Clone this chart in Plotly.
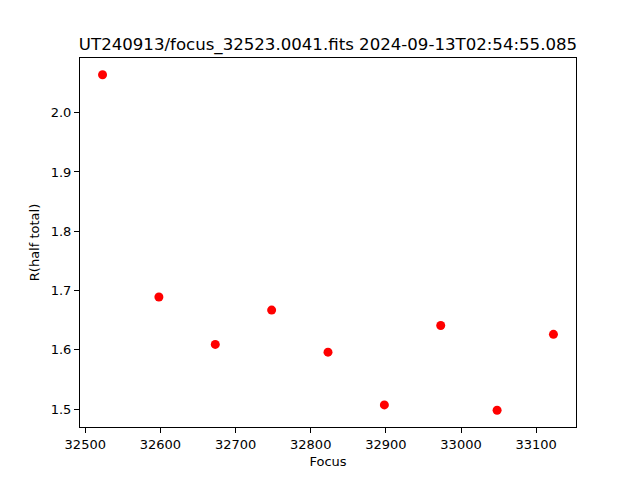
import plotly.graph_objects as go

focus = [32523, 32598, 32673, 32748, 32823, 32898, 32973, 33048, 33123]
r_half = [2.064, 1.689, 1.609, 1.667, 1.596, 1.507, 1.641, 1.498, 1.626]
title = "UT240913/focus_32523.0041.fits 2024-09-13T02:54:55.085"
x_ticks = [32500, 32600, 32700, 32800, 32900, 33000, 33100]
y_ticks = [1.5, 1.6, 1.7, 1.8, 1.9, 2.0]

font = "DejaVu Sans"
fig = go.Figure(go.Scatter(x=focus, y=r_half, mode="markers",
                           marker=dict(color="red", size=9, line=dict(width=0))))

xmin, xmax = min(focus), max(focus)
ymin, ymax = min(r_half), max(r_half)
xpad = (xmax - xmin) * 0.05
ypad = (ymax - ymin) * 0.05

axis_common = dict(showline=True, linecolor="black", linewidth=1, mirror=True,
                   ticks="outside", ticklen=5, tickcolor="black", showgrid=False,
                   zeroline=False, tickfont=dict(family=font, size=13, color="black"))

W, H = 632, 472
fig.update_layout(
    width=W, height=H,
    paper_bgcolor="white", plot_bgcolor="white",
    margin=dict(l=72, r=64, t=50, b=53),
    showlegend=False,
    title=dict(text=title, x=(72 + (W - 64)) / 2 / W, xanchor="center",
               y=1 - 36 / H, yanchor="middle",
               font=dict(family=font, size=16.6, color="black")),
    xaxis=dict(range=[xmin - xpad, xmax + xpad], tickvals=x_ticks, tickformat="d",
               title=dict(text="Focus", font=dict(family=font, size=13, color="black"), standoff=6),
               **axis_common),
    yaxis=dict(range=[ymin - ypad, ymax + ypad], tickvals=y_ticks, tickformat=".1f",
               title=dict(text="R(half total)", font=dict(family=font, size=13, color="black"), standoff=8),
               **axis_common),
)

fig.write_html("out.html")
